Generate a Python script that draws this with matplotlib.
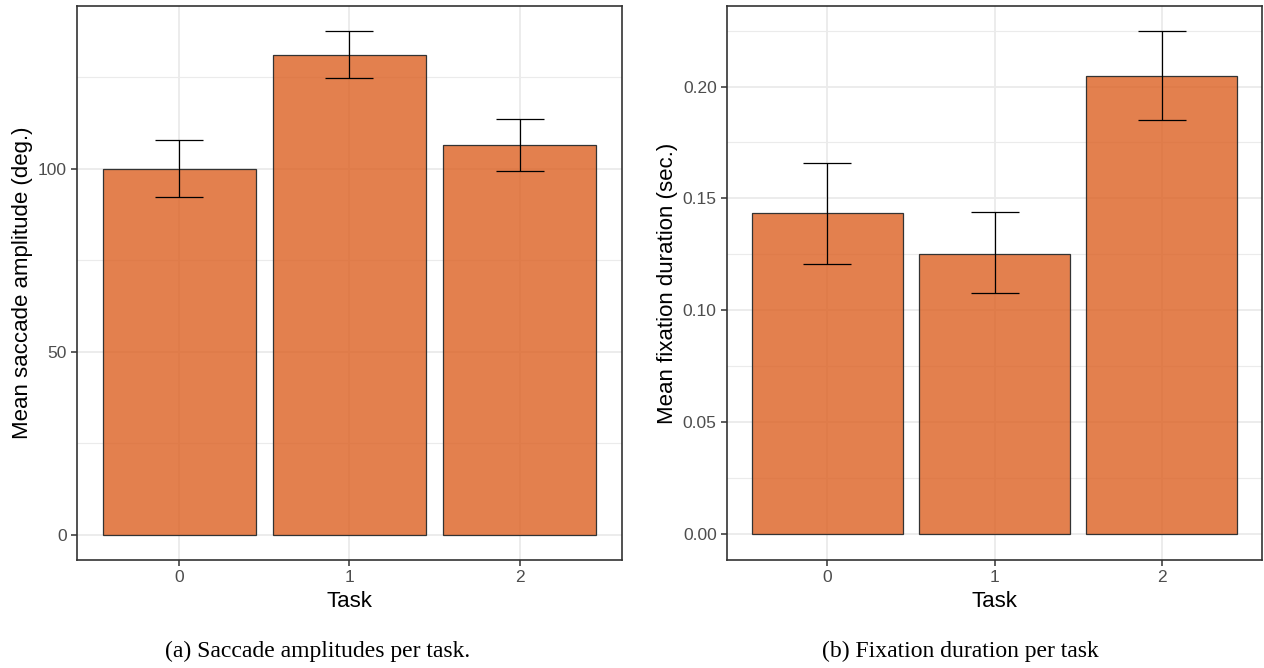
import numpy as np
import matplotlib
matplotlib.use('Agg')
import matplotlib.pyplot as plt

tasks = ['0', '1', '2']

# left panel: saccade amplitude
sacc_mean = [100.0, 131.2, 106.4]
sacc_lo = [92.2, 124.9, 99.5]
sacc_hi = [107.8, 137.7, 113.5]

# right panel: fixation duration
fix_mean = [0.1436, 0.1253, 0.2049]
fix_lo = [0.1209, 0.1076, 0.1849]
fix_hi = [0.1658, 0.1440, 0.2249]

sacc_ticks = [0, 50, 100]
fix_ticks = [0.00, 0.05, 0.10, 0.15, 0.20]

BAR = '#DC6022'
GRID = '#EBEBEB'
TICKC = '#4D4D4D'

plt.rcParams['font.family'] = ['Liberation Sans', 'DejaVu Sans']

fig = plt.figure(figsize=(12.64, 6.68), dpi=100)
ax1 = fig.add_axes([0.0609, 0.1617, 0.4311, 0.8293])
ax2 = fig.add_axes([0.5752, 0.1617, 0.4232, 0.8293])


def panel(ax, means, lo, hi, ticks, ylim, ylabel, fmt):
    xs = np.arange(len(tasks))
    ax.bar(xs, means, width=0.9, color=BAR, alpha=0.8,
           edgecolor='none', zorder=2)
    ax.bar(xs, means, width=0.9, color='none',
           edgecolor='#333333', linewidth=0.9, zorder=3)
    m = np.array(means)
    yerr = [m - np.array(lo), np.array(hi) - m]
    ax.errorbar(xs, means, yerr=yerr, fmt='none', ecolor='black',
                elinewidth=0.9, capsize=17, capthick=0.9, zorder=4)
    ax.set_xlim(-0.6, 2.6)
    ax.set_ylim(*ylim)
    ax.set_xticks(xs)
    ax.set_xticklabels(tasks)
    ax.set_yticks(ticks)
    ax.set_yticklabels([fmt.format(t) for t in ticks])
    minor = [(a + b) / 2 for a, b in zip(ticks[:-1], ticks[1:])]
    minor.append(ticks[-1] + (ticks[1] - ticks[0]) / 2)
    ax.set_yticks(minor, minor=True)
    ax.tick_params(axis='y', which='minor', length=0)
    ax.grid(True, which='major', color=GRID, linewidth=1.3, zorder=0)
    ax.grid(True, which='minor', axis='y', color=GRID, linewidth=0.8, zorder=0)
    ax.set_axisbelow(True)
    ax.tick_params(which='major', colors='#333333', labelcolor=TICKC,
                   labelsize=12.5, length=4, width=1.1)
    for sp in ax.spines.values():
        sp.set_edgecolor('#333333')
        sp.set_linewidth(1.2)
    ax.set_xlabel('Task', fontsize=16, labelpad=4)
    ax.set_ylabel(ylabel, fontsize=16, labelpad=3)


panel(ax1, sacc_mean, sacc_lo, sacc_hi, sacc_ticks, (-6.9, 144.5),
      'Mean saccade amplitude (deg.)', '{:g}')
panel(ax2, fix_mean, fix_lo, fix_hi, fix_ticks, (-0.0116, 0.236),
      'Mean fixation duration (sec.)', '{:.2f}')

fig.text(0.2516, 0.025, '(a) Saccade amplitudes per task.', ha='center',
         va='center', fontsize=17, family=['Liberation Serif', 'DejaVu Serif'])
fig.text(0.7595, 0.025, '(b) Fixation duration per task', ha='center',
         va='center', fontsize=17, family=['Liberation Serif', 'DejaVu Serif'])

fig.savefig('out.png', dpi=100, facecolor='white')
